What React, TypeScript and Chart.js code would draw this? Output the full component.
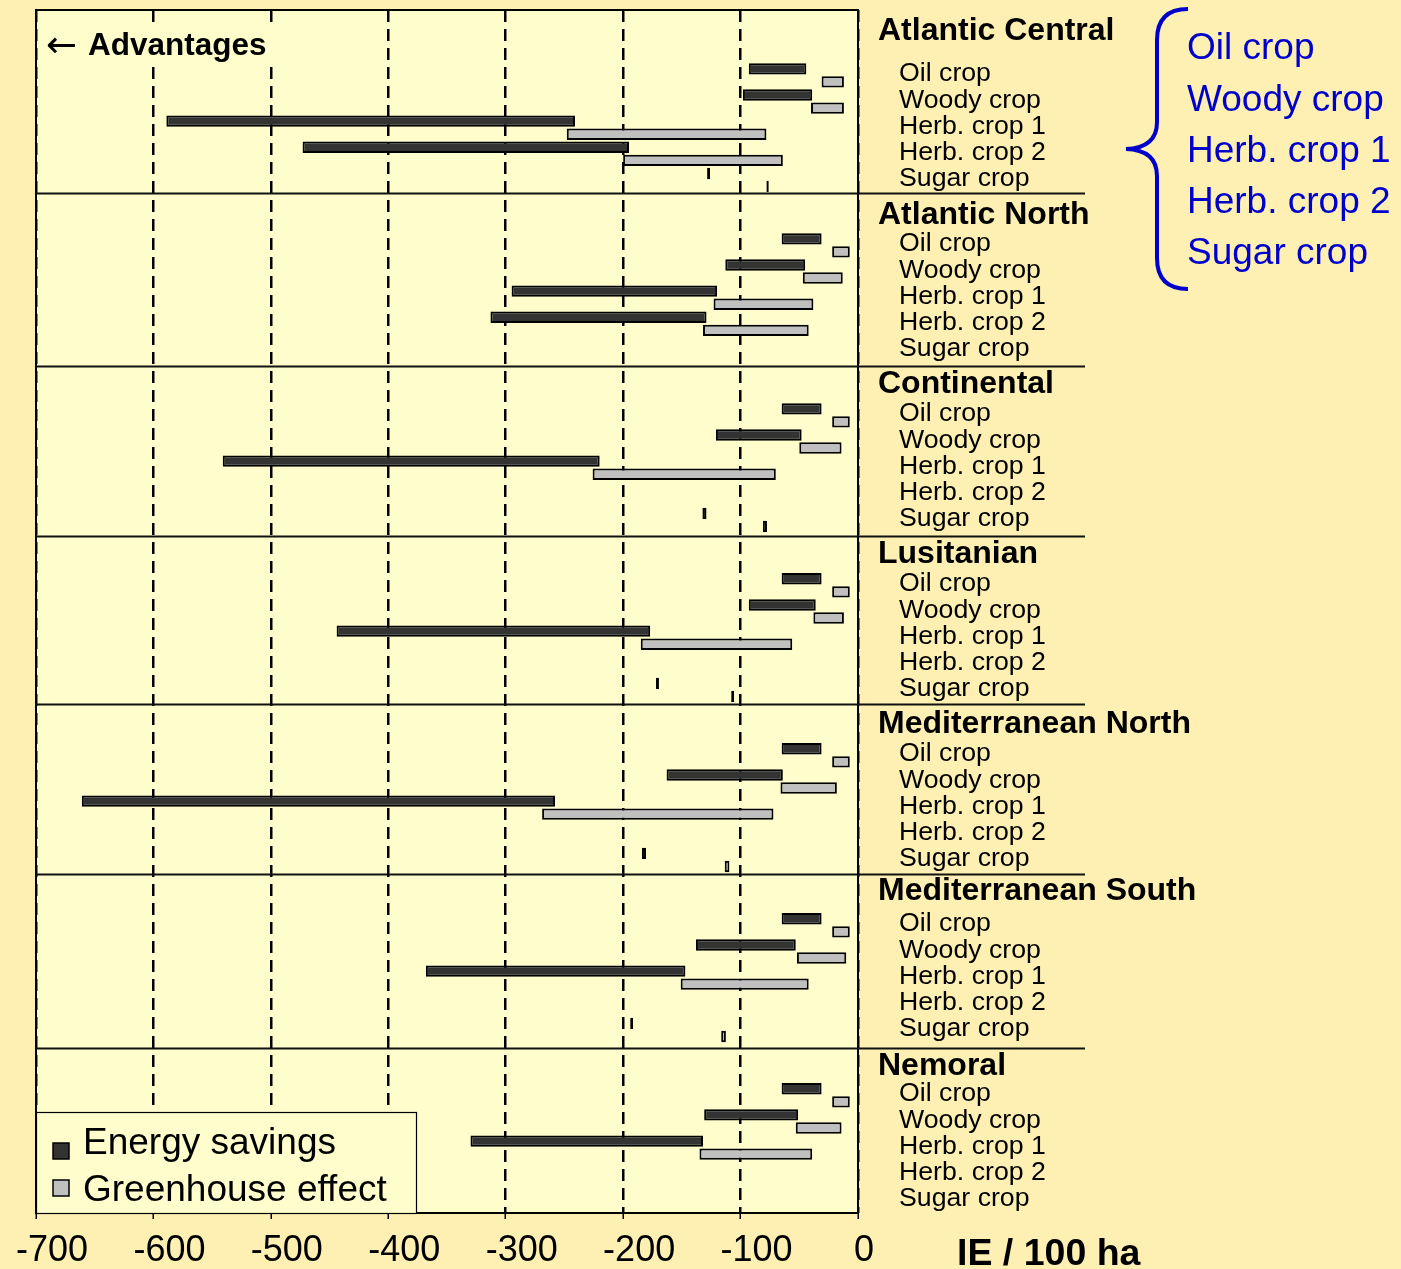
import React, { useEffect, useRef } from 'react';
import { Chart, registerables } from 'chart.js';

Chart.register(...registerables);

// ---------------- data ----------------
const regions = [
  'Atlantic Central',
  'Atlantic North',
  'Continental',
  'Lusitanian',
  'Mediterranean North',
  'Mediterranean South',
  'Nemoral',
];
const crops = ['Oil crop', 'Woody crop', 'Herb. crop 1', 'Herb. crop 2', 'Sugar crop'];
const seriesNames = ['Energy savings', 'Greenhouse effect'];
const tickValues = [-700, -600, -500, -400, -300, -200, -100, 0];
const axisTitle = 'IE / 100 ha';
const advantagesLabel = 'Advantages';

type Range = [number, number] | null;

// ranges [from, to] per crop (Oil, Woody, Herb1, Herb2, Sugar); null = no bar
const energyAtlanticCentral: Range[] = [[-93, -44], [-98, -39], [-589, -241], [-473, -195], [-128.5, -126]];
const greenhouseAtlanticCentral: Range[] = [[-31, -12], [-40, -12], [-248, -78], [-200, -64], [-78, -76]];
const energyAtlanticNorth: Range[] = [[-65, -31], [-113, -45], [-295, -120], [-313, -129], null];
const greenhouseAtlanticNorth: Range[] = [[-22, -7], [-47, -13], [-123, -38], [-132, -42], null];
const energyContinental: Range[] = [[-65, -31], [-121, -48], [-541, -220], null, [-132.5, -129]];
const greenhouseContinental: Range[] = [[-22, -7], [-50, -14], [-226, -70], null, [-81, -77.5]];
const energyLusitanian: Range[] = [[-65, -31], [-93, -36], [-444, -177], null, [-172, -169.5]];
const greenhouseLusitanian: Range[] = [[-22, -7], [-38, -12], [-185, -56], null, [-108, -105.5]];
const energyMedNorth: Range[] = [[-65, -31], [-163, -64], [-661, -258], null, [-184, -180.5]];
const greenhouseMedNorth: Range[] = [[-22, -7], [-66, -18], [-269, -72], null, [-113.5, -109.5]];
const energyMedSouth: Range[] = [[-65, -31], [-138, -53], [-368, -147], null, [-194, -191.5]];
const greenhouseMedSouth: Range[] = [[-22, -7], [-52, -10], [-151, -42], null, [-116.5, -112.5]];
const energyNemoral: Range[] = [[-65, -31], [-131, -51], [-330, -132], null, null];
const greenhouseNemoral: Range[] = [[-22, -7], [-53, -14], [-135, -39], null, null];

const energySavings = [
  energyAtlanticCentral, energyAtlanticNorth, energyContinental, energyLusitanian,
  energyMedNorth, energyMedSouth, energyNemoral,
];
const greenhouseEffect = [
  greenhouseAtlanticCentral, greenhouseAtlanticNorth, greenhouseContinental, greenhouseLusitanian,
  greenhouseMedNorth, greenhouseMedSouth, greenhouseNemoral,
];

// ---------------- layout of category slots ----------------
const LEAD_SLOTS = 4; // empty rows above first crop of each region
const SLOTS_PER_REGION = 13;
const TOTAL_SLOTS = 92;
const slotOf = (g: number, k: number, s: number) => LEAD_SLOTS + g * SLOTS_PER_REGION + 2 * k + s;

const FONT = '"Liberation Sans", Arial, Helvetica, sans-serif';
const OUTER_BG = '#FEF0B2';
const INNER_BG = '#FFFDCC';
const DARK = '#333333';
const LIGHT = '#C0C0C0';
const BLUE = '#0000CC';

function buildSeries(src: Range[][], s: number) {
  const arr: (number[] | null)[] = new Array(TOTAL_SLOTS).fill(null);
  src.forEach((region, g) => {
    region.forEach((r, k) => {
      if (r) arr[slotOf(g, k, s)] = [r[0], r[1]];
    });
  });
  return arr;
}

const decorPlugin = {
  id: 'decor',
  beforeDraw(chart: any) {
    const { ctx, chartArea: a, width, height } = chart;
    ctx.save();
    ctx.fillStyle = OUTER_BG;
    ctx.fillRect(0, 0, width, height);
    ctx.fillStyle = INNER_BG;
    ctx.fillRect(a.left, a.top, a.right - a.left, a.bottom - a.top);
    ctx.restore();
  },
  afterDraw(chart: any) {
    const { ctx, chartArea: a, scales } = chart;
    const ys = scales.y;
    const c0 = ys.getPixelForValue(0);
    const slotH = ys.getPixelForValue(1) - c0;
    const slotY = (s: number) => c0 + s * slotH;
    ctx.save();

    // plot frame
    ctx.strokeStyle = '#000';
    ctx.lineWidth = 2;
    ctx.setLineDash([]);
    ctx.strokeRect(a.left, a.top, a.right - a.left, a.bottom - a.top);

    // region separators
    const boundaries = [14.02, 27.23, 40.23, 53.07, 66.1, 79.4];
    ctx.lineWidth = 1.8;
    ctx.strokeStyle = '#111';
    boundaries.forEach((b) => {
      const y = Math.round(a.top + b * slotH) + 0.5;
      ctx.beginPath();
      ctx.moveTo(a.left, y);
      ctx.lineTo(a.right + 227, y);
      ctx.stroke();
    });

    // region titles and crop labels
    const titleOffsets = [-3.04, -1.95, -2, -2, -2, -2.3, -1.9];
    ctx.fillStyle = '#000';
    ctx.textBaseline = 'middle';
    ctx.textAlign = 'left';
    regions.forEach((name, g) => {
      const oil = slotOf(g, 0, 0);
      ctx.font = `bold 32px ${FONT}`;
      ctx.fillText(name, a.right + 20, slotY(oil + titleOffsets[g]) + 2);
      ctx.font = `26.7px ${FONT}`;
      crops.forEach((c, k) => {
        ctx.fillText(c, a.right + 41, slotY(oil + 2 * k + 0.25) + 2);
      });
    });

    // blue brace with crop list
    ctx.strokeStyle = BLUE;
    ctx.lineWidth = 4;
    ctx.beginPath();
    ctx.moveTo(1188, 9);
    ctx.quadraticCurveTo(1157, 9, 1157, 40);
    ctx.lineTo(1157, 122);
    ctx.quadraticCurveTo(1157, 148, 1126, 149);
    ctx.quadraticCurveTo(1157, 150, 1157, 176);
    ctx.lineTo(1157, 258);
    ctx.quadraticCurveTo(1157, 289, 1188, 289);
    ctx.stroke();
    ctx.fillStyle = BLUE;
    ctx.font = `37px ${FONT}`;
    crops.forEach((c, k) => {
      ctx.fillText(c, 1187, 49.2 + k * 51.25);
    });

    // "← Advantages"
    ctx.fillStyle = INNER_BG;
    ctx.fillRect(a.left + 3, 22, 240, 43);
    ctx.fillStyle = '#000';
    ctx.font = `37px "DejaVu Sans", ${FONT}`;
    ctx.fillText('\u2190', a.left + 10, 47);
    ctx.font = `bold 31.5px ${FONT}`;
    ctx.fillText(advantagesLabel, a.left + 52, 46.5);

    // legend box
    const lx = a.left, ly = a.bottom - 101, lw = 380, lh = 101;
    ctx.fillStyle = INNER_BG;
    ctx.fillRect(lx, ly, lw, lh);
    ctx.strokeStyle = '#000';
    ctx.lineWidth = 1.2;
    ctx.strokeRect(lx + 0.5, ly + 0.5, lw, lh);
    const rowText = [a.bottom - 69, a.bottom - 22];
    const rowSquare = [a.bottom - 70, a.bottom - 33];
    chart.data.datasets.forEach((ds: any, i: number) => {
      ctx.fillStyle = ds.backgroundColor;
      ctx.fillRect(lx + 17, rowSquare[i], 16, 16);
      ctx.strokeStyle = '#000';
      ctx.lineWidth = 1.5;
      ctx.strokeRect(lx + 17, rowSquare[i], 16, 16);
      ctx.fillStyle = '#000';
      ctx.font = `37px ${FONT}`;
      ctx.fillText(ds.label, lx + 47, rowText[i]);
    });

    // axis title
    ctx.font = `bold 37.5px ${FONT}`;
    ctx.fillText(axisTitle, 957, 1255);

    ctx.restore();
  },
};

export default function App() {
  const ref = useRef<HTMLCanvasElement | null>(null);

  useEffect(() => {
    if (!ref.current) return;
    const labels = Array.from({ length: TOTAL_SLOTS }, (_, i) => `s${i}`);
    const chart = new Chart(ref.current, {
      type: 'bar',
      data: {
        labels,
        datasets: [
          {
            label: seriesNames[0],
            data: buildSeries(energySavings, 0) as any,
            backgroundColor: DARK,
            borderColor: '#000',
            borderWidth: 2,
            borderSkipped: false,
            grouped: false,
            barPercentage: 0.87,
            categoryPercentage: 1,
          },
          {
            label: seriesNames[1],
            data: buildSeries(greenhouseEffect, 1) as any,
            backgroundColor: LIGHT,
            borderColor: '#000',
            borderWidth: 2,
            borderSkipped: false,
            grouped: false,
            barPercentage: 0.87,
            categoryPercentage: 1,
          },
        ],
      },
      options: {
        indexAxis: 'y',
        responsive: false,
        animation: false,
        devicePixelRatio: 1,
        layout: { padding: { left: 36, right: 543, top: 10, bottom: 0 } },
        plugins: {
          legend: { display: false },
          tooltip: { enabled: false },
        },
        scales: {
          x: {
            type: 'linear',
            position: 'bottom',
            min: -700,
            max: 0,
            afterBuildTicks: (scale: any) => {
              scale.ticks = tickValues.map((v) => ({ value: v }));
            },
            afterFit: (scale: any) => {
              scale.height = 56;
              scale.paddingLeft = 0;
              scale.paddingRight = 0;
            },
            grid: {
              display: true,
              drawOnChartArea: true,
              color: '#000',
              lineWidth: 2.5,
              drawTicks: true,
              tickLength: 6,
              tickColor: '#000',
              tickWidth: 1.5,
              tickBorderDash: [],
            } as any,
            border: { display: false, dash: [12, 7] },
            ticks: {
              autoSkip: false,
              maxRotation: 0,
              minRotation: 0,
              padding: 10,
              labelOffset: 16,
              color: '#000',
              font: { family: FONT, size: 36 },
              callback: (v: any) => (Number(v) === 0 ? '0  ' : String(v)),
            },
          },
          y: {
            type: 'category',
            display: false,
            offset: true,
            grid: { display: false },
          },
        },
      },
      plugins: [decorPlugin],
    });
    return () => chart.destroy();
  }, []);

  return (
    <div style={{ position: 'absolute', left: 0, top: 0, width: 1401, height: 1269, background: OUTER_BG }}>
      <canvas ref={ref} width={1401} height={1269} style={{ display: 'block' }} />
    </div>
  );
}
